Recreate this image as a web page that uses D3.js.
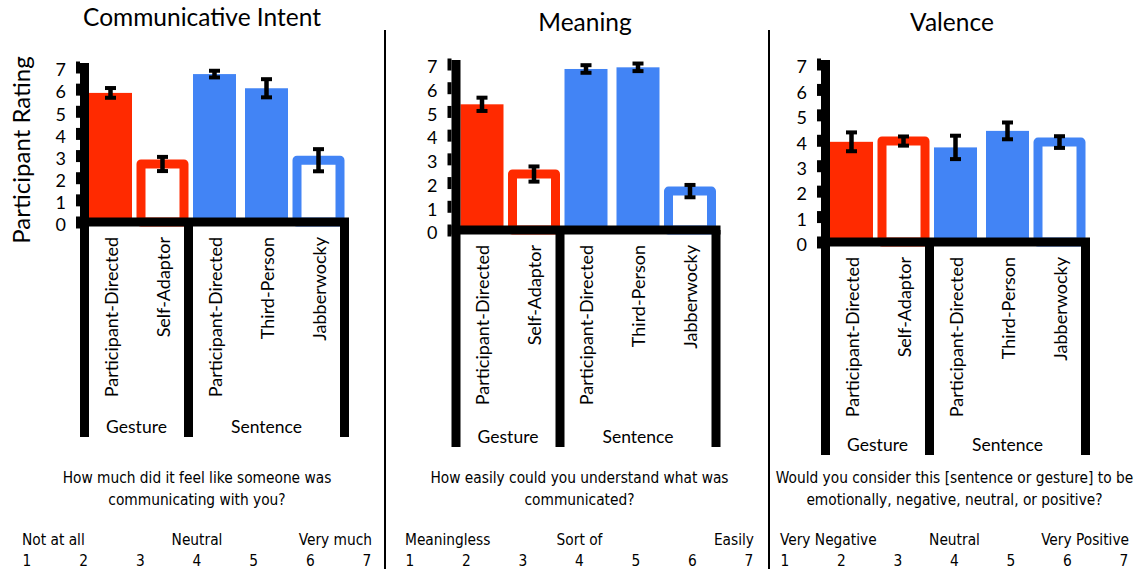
<!DOCTYPE html>
<html>
<head>
<meta charset="utf-8">
<script src="https://cdn.jsdelivr.net/npm/d3@7"></script>
<style>
  body { margin: 0; background: #fff; }
  svg { display: block; }
  text { font-family: Lato, "Open Sans", sans-serif; fill: #000; }
  .narrow { font-family: "Liberation Sans Narrow", "DejaVu Sans Condensed", sans-serif; }
</style>
</head>
<body>
<svg width="1134" height="569"></svg>
<script>
// bar categories, shared by all three panels
const categories = ["Participant-Directed", "Self-Adaptor", "Participant-Directed", "Third-Person", "Jabberwocky"];
const groupOf = ["Gesture", "Gesture", "Sentence", "Sentence", "Sentence"];
const filled = [true, false, true, true, false];
const groups = ["Gesture", "Sentence"];
const yTicks = [0, 1, 2, 3, 4, 5, 6, 7];

const titles = ["Communicative Intent", "Meaning", "Valence"];

// means and error bars
const intentMeans = [5.83, 2.62, 6.68, 6.04, 2.79];
const intentErrors = [0.22, 0.32, 0.15, 0.41, 0.5];
const meaningMeans = [5.3, 2.36, 6.79, 6.86, 1.64];
const meaningErrors = [0.28, 0.32, 0.16, 0.16, 0.26];
const valenceMeans = [3.94, 3.97, 3.72, 4.37, 3.93];
const valenceErrors = [0.37, 0.18, 0.46, 0.33, 0.23];

const questions = [
  ["How much did it feel like someone was", "communicating with you?"],
  ["How easily could you understand what was", "communicated?"],
  ["Would you consider this [sentence or gesture] to be", "emotionally, negative, neutral, or positive?"]
];
const scaleAnchors = [
  ["Not at all", "Neutral", "Very much"],
  ["Meaningless", "Sort of", "Easily"],
  ["Very Negative", "Neutral", "Very Positive"]
];
const scaleNumbers = [1, 2, 3, 4, 5, 6, 7];

const svg = d3.select("svg");
const colorOf = { Gesture: "#ff2a00", Sentence: "#4284f5" };

const panels = [
  { means: intentMeans, errors: intentErrors, x0: 84.5, y0: 222, y7: 67, axisTop: 63, bottom: 437, titleX: 202, titleY: 26, scale: [27, 367] },
  { means: meaningMeans, errors: meaningErrors, x0: 456, y0: 230, y7: 64, axisTop: 60, bottom: 447, titleX: 585, titleY: 31, scale: [410, 749] },
  { means: valenceMeans, errors: valenceErrors, x0: 825.5, y0: 242, y7: 64, axisTop: 60, bottom: 455, titleX: 952, titleY: 31, scale: [785, 1124] }
];

const step = 52, barW = 43, thick = 9;

panels.forEach((p, pi) => {
  const g = svg.append("g");
  const x = d3.scaleBand().domain(d3.range(categories.length))
    .range([p.x0, p.x0 + step * categories.length]).paddingInner(0.17).paddingOuter(0.085);
  const y = d3.scaleLinear().domain([0, 7]).range([p.y0, p.y7]);
  const data = categories.map((c, i) => ({
    cat: c, group: groupOf[i], filled: filled[i], mean: p.means[i], err: p.errors[i], i: i
  }));

  // title
  g.append("text").attr("x", p.titleX).attr("y", p.titleY)
    .attr("text-anchor", "middle").attr("font-size", 24.5).text(titles[pi]);

  // bars
  g.selectAll("rect.bar").data(data).enter().append("rect")
    .attr("class", "bar")
    .attr("x", d => x(d.i) + x.bandwidth() / 2 - barW / 2)
    .attr("width", barW)
    .attr("y", d => y(d.mean))
    .attr("height", d => y(0) - y(d.mean))
    .attr("fill", d => d.filled ? colorOf[d.group] : "#fff")
    .attr("stroke", d => d.filled ? "none" : colorOf[d.group])
    .attr("stroke-width", thick)
    .attr("stroke-linejoin", "round");

  // error bars
  const eb = g.selectAll("g.err").data(data).enter().append("g")
    .attr("transform", d => `translate(${x(d.i) + x.bandwidth() / 2},0)`);
  eb.append("line")
    .attr("y1", d => y(d.mean - d.err)).attr("y2", d => y(d.mean + d.err))
    .attr("stroke", "#000").attr("stroke-width", 4.5);
  eb.selectAll("line.cap").data(d => [d.mean - d.err, d.mean + d.err]).enter().append("line")
    .attr("x1", -5.5).attr("x2", 5.5)
    .attr("y1", v => y(v)).attr("y2", v => y(v))
    .attr("stroke", "#000").attr("stroke-width", 4);

  // y axis ticks and labels
  const axis = d3.axisLeft(y).tickValues(yTicks).tickSize(4).tickPadding(10).tickFormat(d3.format("d"));
  const ag = g.append("g").attr("transform", `translate(${p.x0 - thick / 2},0)`).call(axis);
  ag.select(".domain").remove();
  ag.selectAll(".tick line").attr("stroke", "#000").attr("stroke-width", 12);
  ag.selectAll(".tick text").attr("font-family", "Lato, sans-serif").attr("font-size", 18)
    .attr("fill", "#000").attr("y", 3);

  const xEnd = p.x0 + step * categories.length;
  // vertical axis (continues down as the left group line)
  g.append("line").attr("x1", p.x0).attr("x2", p.x0)
    .attr("y1", p.axisTop).attr("y2", p.bottom)
    .attr("stroke", "#000").attr("stroke-width", thick);
  // horizontal axis
  g.append("line").attr("x1", p.x0 - thick / 2).attr("x2", xEnd + thick / 2)
    .attr("y1", y(0)).attr("y2", y(0))
    .attr("stroke", "#000").attr("stroke-width", thick);
  // group separators
  const sep = [x(2) - x.step() * x.paddingInner() / 2, xEnd];
  g.selectAll("line.sep").data(sep).enter().append("line")
    .attr("x1", d => d).attr("x2", d => d)
    .attr("y1", y(0)).attr("y2", p.bottom)
    .attr("stroke", "#000").attr("stroke-width", thick);

  // category labels, rotated
  g.selectAll("text.cat").data(data).enter().append("text")
    .attr("transform", d => `translate(${x(d.i) + x.bandwidth() / 2 + 7},${y(0) + 15}) rotate(-90)`)
    .attr("text-anchor", "end").attr("font-size", 18).text(d => d.cat);

  // group labels
  const bounds = [[p.x0, sep[0]], [sep[0], xEnd]];
  g.selectAll("text.grp").data(groups).enter().append("text")
    .attr("x", (d, i) => (bounds[i][0] + bounds[i][1]) / 2)
    .attr("y", p.bottom - 4)
    .attr("text-anchor", "middle").attr("font-size", 17.5).text(d => d);

  // question text
  const cx = (p.scale[0] + p.scale[1]) / 2;
  g.selectAll("text.q").data(questions[pi]).enter().append("text")
    .attr("class", "narrow").attr("x", cx).attr("y", (d, i) => 483 + i * 22)
    .attr("text-anchor", "middle").attr("font-size", 15.3).text(d => d);

  // rating scale
  const s = d3.scaleLinear().domain([1, 7]).range(p.scale);
  const anchorX = [s(1) - 5, s(4), s(7) + 5];
  const anchorAlign = ["start", "middle", "end"];
  g.selectAll("text.anc").data(scaleAnchors[pi]).enter().append("text")
    .attr("class", "narrow").attr("x", (d, i) => anchorX[i]).attr("y", 545)
    .attr("text-anchor", (d, i) => anchorAlign[i]).attr("font-size", 15.3).text(d => d);
  g.selectAll("text.num").data(scaleNumbers).enter().append("text")
    .attr("class", "narrow").attr("x", d => s(d)).attr("y", 566)
    .attr("text-anchor", "middle").attr("font-size", 15.3).text(d => d);
});

// y axis title
svg.append("text").attr("transform", "translate(30,150) rotate(-90)")
  .attr("text-anchor", "middle").attr("font-size", 24).text("Participant Rating");

// panel dividers
svg.selectAll("line.div").data([385, 769]).enter().append("line")
  .attr("x1", d => d).attr("x2", d => d).attr("y1", 30).attr("y2", 569)
  .attr("stroke", "#000").attr("stroke-width", 2);
</script>
</body>
</html>
